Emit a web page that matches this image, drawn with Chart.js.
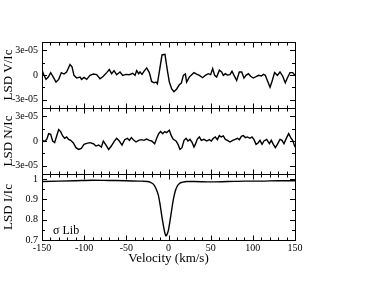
<!DOCTYPE html>
<html>
<head>
<meta charset="utf-8">
<script src="https://cdn.jsdelivr.net/npm/chart.js@4/dist/chart.umd.min.js"></script>
<style>
  html, body { margin: 0; padding: 0; background: #fff; }
  canvas { display: block; }
</style>
</head>
<body>
<canvas id="lsd" width="376" height="291"></canvas>
<script>
// Stokes V (units of 1e-5)
const vVel = [-150.0, -147.6, -145.3, -142.5, -139.7, -136.6, -133.4, -130.2, -127.1, -123.9, -120.8, -116.8, -114.4, -112.1, -108.9, -104.9, -103.0, -100.2, -97.0, -93.1, -89.1, -85.2, -81.2, -77.3, -73.3, -70.2, -67.4, -64.6, -61.5, -57.5, -54.3, -50.4, -46.4, -42.5, -39.7, -37.7, -35.4, -33.8, -31.4, -29.1, -25.9, -22.7, -20.0, -17.2, -14.8, -13.2, -10.9, -7.7, -4.2, -1.4, 1.0, 3.8, 6.5, 9.7, 12.8, 15.2, 17.6, 20.0, 21.5, 24.7, 27.5, 30.2, 33.4, 36.6, 40.5, 43.7, 47.2, 50.0, 52.4, 54.7, 57.1, 60.3, 63.0, 65.0, 67.4, 69.8, 72.9, 75.3, 77.7, 80.8, 84.0, 86.8, 89.5, 91.9, 94.7, 97.4, 100.6, 103.8, 106.9, 110.1, 112.5, 114.8, 117.2, 120.4, 122.7, 125.8, 129.1, 132.2, 135.3, 138.5, 140.9, 144.1, 147.2, 150.0];
const vVal = [0.58, -0.04, -0.53, -0.25, 0.29, -0.25, -0.86, -0.53, 0.29, 0.12, 0.37, 1.28, 0.99, -0.04, -0.37, -0.25, -0.53, -0.29, -0.53, -0.04, 0.12, 0.04, -0.45, -0.16, 0.29, 0.66, 0.16, 0.53, 0.04, 0.37, -0.04, 0.08, 0.04, 0.21, -0.04, 0.53, 0.16, 0.37, 0.08, 0.45, 0.86, 0.29, -0.78, -0.95, -0.86, -1.07, 0.37, 2.43, 2.51, 0.58, -0.86, -1.69, -2.02, -1.69, -1.19, -0.99, -0.04, 0.12, -0.86, -0.25, 0.04, 0.29, 0.12, -0.04, -0.33, -0.04, 0.16, 0.04, 0.78, -0.04, -0.25, 0.58, 0.37, -0.04, 0.16, 0.0, 0.04, 0.45, -0.04, -0.66, 0.37, 0.37, -0.37, -0.04, 0.16, -0.16, -0.37, -0.21, -0.04, -0.12, 0.08, -0.04, -0.66, -1.48, -0.78, 0.29, -0.04, 0.37, -0.12, -0.95, -0.37, 0.29, 0.29, -0.04];

// Null profile N (units of 1e-5)
const nVel = [-150.0, -147.6, -144.5, -142.1, -139.7, -137.4, -135.0, -132.6, -130.2, -127.9, -125.5, -123.1, -120.8, -118.4, -116.0, -112.8, -109.7, -106.5, -103.4, -100.2, -97.0, -93.1, -89.1, -86.0, -82.8, -79.6, -77.3, -74.1, -70.9, -67.8, -64.6, -61.5, -58.3, -55.1, -52.0, -48.8, -46.4, -44.1, -41.7, -38.5, -35.4, -32.2, -29.1, -25.9, -22.7, -20.0, -16.4, -14.0, -11.7, -9.3, -6.9, -4.5, -2.2, 1.0, 3.4, 5.7, 8.9, 11.3, 13.6, 16.0, 18.4, 20.8, 23.1, 25.5, 27.9, 30.2, 31.8, 34.2, 36.6, 38.9, 42.1, 45.3, 48.4, 50.8, 53.2, 55.5, 57.9, 60.3, 62.6, 65.0, 67.4, 69.8, 72.9, 76.1, 79.2, 81.6, 84.0, 86.4, 88.7, 91.1, 93.5, 96.6, 99.0, 101.4, 103.8, 106.1, 108.5, 110.9, 113.2, 116.4, 119.6, 121.9, 124.3, 126.7, 129.1, 132.2, 134.6, 136.9, 140.1, 142.5, 144.9, 147.2, 150.0];
const nVal = [0.20, -0.08, 0.16, 0.89, 0.81, 0.00, -0.20, 0.61, 1.38, 1.14, 0.61, 0.33, 0.49, 0.20, 0.08, -0.24, -0.81, -1.02, -0.89, -0.41, -0.28, -0.20, -0.33, -0.61, -0.49, -0.73, 0.00, -0.49, -1.02, -0.61, -0.08, 0.33, 0.00, -0.49, 0.16, 0.33, 0.08, 0.41, 0.16, -0.12, 0.08, 0.16, 0.08, 0.24, 0.08, 0.00, -0.33, 0.33, 0.89, 1.14, 0.89, 1.14, 1.02, 1.30, 0.61, 0.20, 0.00, -0.41, -1.02, -0.81, 0.08, 0.33, 0.00, 0.20, -0.16, -0.73, -0.41, 0.24, 0.49, 0.08, 0.20, 0.00, 0.16, 0.00, 0.33, 0.49, 0.16, 0.65, 0.49, 0.61, 0.20, 0.08, -0.12, 0.08, 0.20, 0.33, 0.16, 0.57, 0.65, 0.41, 0.49, 0.33, 0.49, 0.16, -0.41, -0.24, 0.08, -0.41, 0.00, 0.20, -0.33, 0.08, -0.41, -0.81, -0.41, 0.20, 0.08, -0.33, 0.41, 0.89, 0.41, 0.08, -0.73];

// Intensity I/Ic
const iVel = [-150, -130, -110, -90, -70, -50, -35, -25, -22, -18, -15, -12, -10, -8, -6, -4, -3, -2, 0, 2, 4, 6, 8, 10, 13, 17, 22, 30, 50, 70, 90, 110, 130, 150];
const iVal = [0.988, 0.990, 0.992, 0.994, 0.993, 0.992, 0.990, 0.988, 0.985, 0.975, 0.955, 0.92, 0.875, 0.82, 0.77, 0.73, 0.72, 0.725, 0.75, 0.80, 0.855, 0.905, 0.94, 0.962, 0.978, 0.985, 0.988, 0.988, 0.986, 0.988, 0.990, 0.990, 0.992, 0.992];

// axis ticks
const xMajor = [-150, -100, -50, 0, 50, 100, 150];
const xMinor = [-140, -130, -120, -110, -90, -80, -70, -60, -40, -30, -20, -10, 10, 20, 30, 40, 60, 70, 80, 90, 110, 120, 130, 140];
const pMajor = [-3, 0, 3];          // V and N, units of 1e-5
const pMinor = [-1.5, 1.5];
const iMajor = [0.7, 0.8, 0.9, 1];
const iMinor = [0.75, 0.85, 0.95];

const starLabel = 'σ Lib';

const serif = "'Liberation Serif', 'DejaVu Serif', serif";

const toPoints = (xs, ys) => xs.map((x, i) => ({ x: x, y: ys[i] }));
const fmtE5 = (v) => v === 0 ? '0' : (v < 0 ? '-' : '') + Math.abs(v) + 'e-05';

const panelTicks = {
  yV: { major: pMajor, minor: pMinor },
  yN: { major: pMajor, minor: pMinor },
  yI: { major: iMajor, minor: iMinor }
};

// grace-style frame with inward ticks on every side
const frameTicks = {
  id: 'frameTicks',
  afterDraw(chart) {
    const { ctx, chartArea } = chart;
    const { left, right } = chartArea;
    const xs = chart.scales.x;
    ctx.save();
    ctx.strokeStyle = '#000';
    ctx.lineWidth = 1;
    const line = (x1, y1, x2, y2) => {
      ctx.beginPath();
      ctx.moveTo(x1, y1);
      ctx.lineTo(x2, y2);
      ctx.stroke();
    };
    for (const id of ['yV', 'yN', 'yI']) {
      const s = chart.scales[id];
      const top = Math.round(s.top) + 0.5;
      const bot = Math.round(s.bottom) + 0.5;
      ctx.strokeRect(Math.round(left) + 0.5, top, Math.round(right - left), bot - top);
      const yt = panelTicks[id];
      yt.major.concat(yt.minor).forEach((v) => {
        const len = yt.major.includes(v) ? 5 : 3;
        const py = Math.round(s.getPixelForValue(v)) + 0.5;
        line(left, py, left + len, py);
        line(right - len, py, right, py);
      });
      xMajor.concat(xMinor).forEach((v) => {
        const len = xMajor.includes(v) ? 5 : 3;
        const px = Math.round(xs.getPixelForValue(v)) + 0.5;
        line(px, top, px, top + len);
        line(px, bot - len, px, bot);
      });
    }
    const sI = chart.scales.yI;
    ctx.fillStyle = '#000';
    ctx.font = '12px ' + serif;
    ctx.textBaseline = 'middle';
    ctx.fillText(starLabel, left + 11, sI.getPixelForValue(0.745));
    ctx.restore();
  }
};

const yPanel = (weight, min, max, major, title, fmt) => ({
  type: 'linear',
  position: 'left',
  stack: 'panels',
  stackWeight: 1,
  weight: weight,
  min: min,
  max: max,
  grid: { display: false, drawTicks: false },
  border: { display: false },
  afterBuildTicks: (s) => { s.ticks = major.map((v) => ({ value: v })); },
  afterFit: (s) => { s.width = 42; },
  ticks: {
    color: '#000',
    padding: 4,
    autoSkip: false,
    font: { family: serif, size: 10 },
    callback: fmt
  },
  title: {
    display: true,
    text: title,
    color: '#000',
    padding: { top: 1, bottom: 0 },
    font: { family: serif, size: 13 }
  }
});

new Chart(document.getElementById('lsd'), {
  type: 'line',
  data: {
    datasets: [{
      label: 'V',
      data: toPoints(vVel, vVal),
      yAxisID: 'yV'
    }, {
      label: 'N',
      data: toPoints(nVel, nVal),
      yAxisID: 'yN'
    }, {
      label: 'I',
      data: toPoints(iVel, iVal),
      yAxisID: 'yI',
      cubicInterpolationMode: 'monotone'
    }]
  },
  options: {
    responsive: false,
    animation: false,
    devicePixelRatio: 1,
    layout: { padding: { top: 42, right: 81, left: 0, bottom: 0 } },
    elements: {
      point: { radius: 0 },
      line: { borderColor: '#000', borderWidth: 1.4, tension: 0 }
    },
    plugins: {
      legend: { display: false },
      tooltip: { enabled: false }
    },
    scales: {
      x: {
        type: 'linear',
        min: -150,
        max: 150,
        grid: { display: false, drawTicks: false },
        border: { display: false },
        afterBuildTicks: (s) => { s.ticks = xMajor.map((v) => ({ value: v })); },
        afterFit: (s) => { s.height = 51; },
        ticks: {
          color: '#000',
          padding: 2,
          maxRotation: 0,
          autoSkip: false,
          font: { family: serif, size: 10 }
        },
        title: {
          display: true,
          text: 'Velocity (km/s)',
          color: '#000',
          padding: { top: 0, bottom: 25 },
          font: { family: serif, size: 13 }
        }
      },
      yV: yPanel(3, -4, 4, pMajor, 'LSD V/Ic', fmtE5),
      yN: yPanel(2, -4, 4, pMajor, 'LSD N/Ic', fmtE5),
      yI: yPanel(1, 0.7, 1.025, iMajor, 'LSD I/Ic', (v) => String(v))
    }
  },
  plugins: [frameTicks]
});
</script>
</body>
</html>
